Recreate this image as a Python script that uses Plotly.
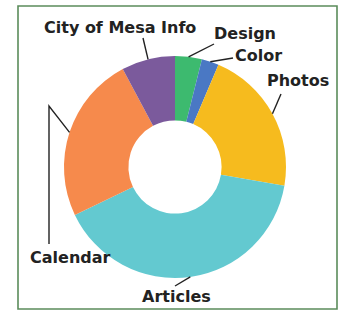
import math
import plotly.graph_objects as go

categories = ["Design", "Color", "Photos", "Articles", "Calendar", "City of Mesa Info"]
values = [3.9, 2.5, 21.3, 40.2, 24.3, 7.8]
colors = ["#3dba6f", "#4a78c4", "#f6bb1e", "#63c9d0", "#f68a4c", "#7b5a9c"]

W, H = 347, 310
CX, CY, R = 175, 167, 111  # pie centre / radius in pixels

fig = go.Figure(go.Pie(
    labels=categories, values=values, sort=False, direction="clockwise", rotation=0,
    hole=0.42, marker=dict(colors=colors, line=dict(width=0)),
    textinfo="none", hoverinfo="label+percent",
    domain=dict(x=[(CX - R) / W, (CX + R) / W], y=[1 - (CY + R) / H, 1 - (CY - R) / H]),
    showlegend=False,
))

def px(x, y):
    return x / W, 1 - y / H

# slice mid-angle points on the outer rim (from data)
total = sum(values)
mid_pts = {}
acc = 0
for c, v in zip(categories, values):
    a = (acc + v / 2) / total * 2 * math.pi
    mid_pts[c] = (CX + R * math.sin(a), CY - R * math.cos(a))
    acc += v

label_pos = {
    "City of Mesa Info": (120, 27),
    "Design": (245, 33),
    "Color": (258, 55),
    "Photos": (298, 81),
    "Articles": (177, 296),
    "Calendar": (70, 257),
}
line_end = {
    "City of Mesa Info": (143, 38),
    "Design": (214, 44),
    "Color": (233, 58),
    "Photos": (281, 94),
    "Articles": (175, 286),
}

shapes = []
for c, (lx, ly) in line_end.items():
    sx, sy = mid_pts[c]
    x0, y0 = px(lx, ly)
    x1, y1 = px(sx, sy)
    shapes.append(dict(type="line", xref="paper", yref="paper", x0=x0, y0=y0, x1=x1, y1=y1,
                       line=dict(color="#222222", width=1.4)))
# Calendar bent leader line
sx, sy = mid_pts["Calendar"]
pts = [px(49, 244), px(49, 106), px(sx, sy)]
path = "M {} {} L {} {} L {} {}".format(pts[0][0], pts[0][1], pts[1][0], pts[1][1], pts[2][0], pts[2][1])
shapes.append(dict(type="path", xref="paper", yref="paper", path=path,
                   line=dict(color="#222222", width=1.4)))
# frame
fx0, fy0 = px(18, 6)
fx1, fy1 = px(337, 309)
shapes.append(dict(type="rect", xref="paper", yref="paper", x0=fx0, y0=fy1, x1=fx1, y1=fy0,
                   line=dict(color="#5b8c5b", width=1.6)))

annotations = []
for c, (lx, ly) in label_pos.items():
    x, y = px(lx, ly)
    annotations.append(dict(text=c, x=x, y=y, xref="paper", yref="paper", showarrow=False,
                            xanchor="center", yanchor="middle",
                            font=dict(family="DejaVu Sans", size=16, color="#222222", weight="bold")))

fig.update_layout(width=W, height=H, margin=dict(l=0, r=0, t=0, b=0),
                  paper_bgcolor="white", plot_bgcolor="white",
                  shapes=shapes, annotations=annotations)
fig.write_html("out.html", config={"displayModeBar": False},
               post_script="document.body.style.margin='0';document.body.style.overflow='hidden';")
